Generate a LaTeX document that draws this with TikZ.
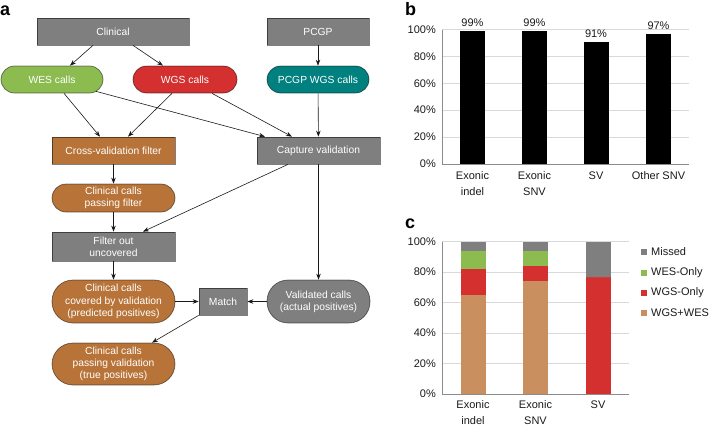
\documentclass[tikz,border=0pt]{standalone}
\usepackage{fontspec}
\setmainfont{Liberation Sans}
\usepackage{tikz}
\usetikzlibrary{arrows.meta}

\definecolor{boxgray}{HTML}{7F7F7F}
\definecolor{wesgreen}{HTML}{8CBB50}
\definecolor{wgsred}{HTML}{D3302F}
\definecolor{pcgpteal}{HTML}{00807E}
\definecolor{clinbrown}{HTML}{B87338}
\definecolor{bothtan}{HTML}{C98F5E}
\definecolor{gridgray}{HTML}{D9D9D9}
\definecolor{axisgray}{HTML}{8C8C8C}
\definecolor{inkgray}{HTML}{1A1A1A}

\begin{document}
\begin{tikzpicture}[x=1pt, y=-1pt, >={Stealth[length=6pt, width=4.5pt]}]
% --- Global Styles ---
\tikzstyle{block} = [draw=black, draw opacity=0.5, line width=0.7pt, fill=boxgray, text=white, inner sep=0pt, align=center, minimum height=27pt, font=\fontsize{10.3}{12.3}\selectfont]
\tikzstyle{pill} = [block, rounded corners=13.5pt]
\tikzstyle{bigpill} = [block, rounded corners=21pt, minimum height=43pt]
\tikzstyle{link} = [->, line width=0.6pt, inkgray]
\tikzstyle{grid} = [gridgray, line width=0.6pt]
\tikzstyle{axisline} = [axisgray, line width=0.8pt]
\tikzstyle{ticklab} = [inkgray, inner sep=1pt, font=\fontsize{11}{15.5}\selectfont]
\tikzstyle{panellab} = [inner sep=0pt, font=\fontsize{18}{18}\selectfont\bfseries]

\useasboundingbox (0,0) rectangle (717,426);

% ==========================================
% PANEL a: Validation workflow
% ==========================================
\node[panellab, anchor=base west] (laba) at (0,15) {a};

% Sources
\node[block, minimum width=152pt] (clin) at (113,31.5) {Clinical};
\node[block, minimum width=102pt] (pcgp) at (318,31.5) {PCGP};

% Call sets
\node[pill, fill=wesgreen, minimum width=102pt] (wes) at (52,79.5) {WES calls};
\node[pill, fill=wgsred, minimum width=104pt] (wgs) at (185,79.5) {WGS calls};
\node[pill, fill=pcgpteal, minimum width=102pt] (pwgs) at (318,79.5) {PCGP WGS calls};

% Filtering steps
\node[block, fill=clinbrown, minimum width=123pt] (xval) at (113.5,150.5) {Cross-validation filter};
\node[block, minimum width=123pt] (capt) at (318.5,150.5) {Capture validation};
\node[pill, fill=clinbrown, minimum width=123pt, minimum height=28pt, rounded corners=14pt] (pass) at (113.5,198) {Clinical calls\\passing filter};
\node[block, minimum width=123pt, minimum height=29pt] (filt) at (113.5,246.5) {Filter out\\uncovered};

% Comparison
\node[bigpill, fill=clinbrown, minimum width=123pt] (covd) at (113.5,301.5) {Clinical calls\\covered by validation\\(predicted positives)};
\node[block, minimum width=48pt] (match) at (223,301.5) {Match};
\node[bigpill, minimum width=103pt] (vald) at (318.5,301.5) {Validated calls\\(actual positives)};
\node[bigpill, fill=clinbrown, minimum width=123pt, minimum height=42pt] (truep) at (113.5,364) {Clinical calls\\passing validation\\(true positives)};

% Connectors
\draw[link] ([xshift=-20pt]clin.south) -- ([xshift=18pt]wes.north);
\draw[link] ([xshift=20pt]clin.south) -- ([xshift=-22pt]wgs.north);
\draw[link] (pcgp) -- (pwgs);
\draw[link] ([xshift=12pt]wes.south) -- ([xshift=-13.5pt]xval.north);
\draw[link] ([xshift=-13pt]wgs.south) -- ([xshift=14.5pt]xval.north);
\draw[link] ([xshift=44pt, yshift=2pt]wes.south) -- ([xshift=-53.5pt]capt.north);
\draw[link] ([xshift=27pt]wgs.south) -- ([xshift=-26.5pt]capt.north);
\draw[link] (pwgs) -- (capt);
\draw[link] (xval) -- (pass);
\draw[link] ([xshift=-30.5pt]capt.south) -- ([xshift=29.5pt]filt.north);
\draw[link] (pass) -- (filt);
\draw[link] (filt) -- (covd);
\draw[link] (capt) -- (vald);
\draw[link] (covd) -- (match);
\draw[link] (vald) -- (match);
\draw[link] (match.south west) -- ([xshift=38.5pt]truep.north);

% ==========================================
% PANEL b: Validation rate per variant class
% ==========================================
\def\bx{442}     % y-axis position
\def\by{164}     % 0% baseline
\def\bs{1.345}   % length of 1%

\node[panellab, anchor=base west] (labb) at (405,15) {b};
\foreach \p in {20,40,...,100}
  \draw[grid] (\bx,{\by-\p*\bs}) -- (689,{\by-\p*\bs});
\foreach \p in {0,20,...,100}
  \node[ticklab, anchor=east] at (437,{\by-\p*\bs}) {\p\%};
\draw[axisline] (\bx,{\by-100*\bs}) -- (\bx,\by) -- (689,\by);

\foreach \c/\v/\lab in {472.5/99/{Exonic\\indel}, 534.5/99/{Exonic\\SNV}, 596/91/SV, 658.5/97/{Other SNV}} {
  \fill[black] ({\c-12.5},\by) rectangle ({\c+12.5},{\by-\v*\bs});
  \node[ticklab, anchor=south] at (\c,{\by-\v*\bs-3}) {\v\%};
  \node[ticklab, anchor=north, align=center] at (\c,170.5) {\lab};
}

% ==========================================
% PANEL c: Detection by platform
% ==========================================
\def\cy{394}     % 0% baseline
\def\cs{1.523}   % length of 1%

\node[panellab, anchor=base west] (labc) at (405,228) {c};
\foreach \p in {20,40,...,100}
  \draw[grid] (\bx,{\cy-\p*\cs}) -- (629,{\cy-\p*\cs});
\foreach \p in {0,20,...,100}
  \node[ticklab, anchor=east] at (437,{\cy-\p*\cs}) {\p\%};

% Stacked bars: WGS+WES / WGS-Only / WES-Only / Missed
\foreach \c/\a/\b/\d/\lab in {473/65/82/94/{Exonic\\indel}, 535.5/74/84/94/{Exonic\\SNV}, 598/0/77/77/SV} {
  \fill[bothtan] ({\c-12.5},\cy) rectangle ({\c+12.5},{\cy-\a*\cs});
  \fill[wgsred] ({\c-12.5},{\cy-\a*\cs}) rectangle ({\c+12.5},{\cy-\b*\cs});
  \fill[wesgreen] ({\c-12.5},{\cy-\b*\cs}) rectangle ({\c+12.5},{\cy-\d*\cs});
  \fill[boxgray] ({\c-12.5},{\cy-\d*\cs}) rectangle ({\c+12.5},{\cy-100*\cs});
  \node[ticklab, anchor=north, align=center] at (\c,399.5) {\lab};
}
\draw[axisline] (\bx,{\cy-100*\cs}) -- (\bx,\cy) -- (629,\cy);

% Legend
\foreach \y/\col/\lab in {252/boxgray/Missed, 272.7/wesgreen/WES-Only, 293/wgsred/WGS-Only, 313/bothtan/WGS+WES} {
  \fill[\col] (641,{\y-3}) rectangle (647,{\y+3});
  \node[ticklab, anchor=west] at (650,\y) {\lab};
}
\end{tikzpicture}
\end{document}
